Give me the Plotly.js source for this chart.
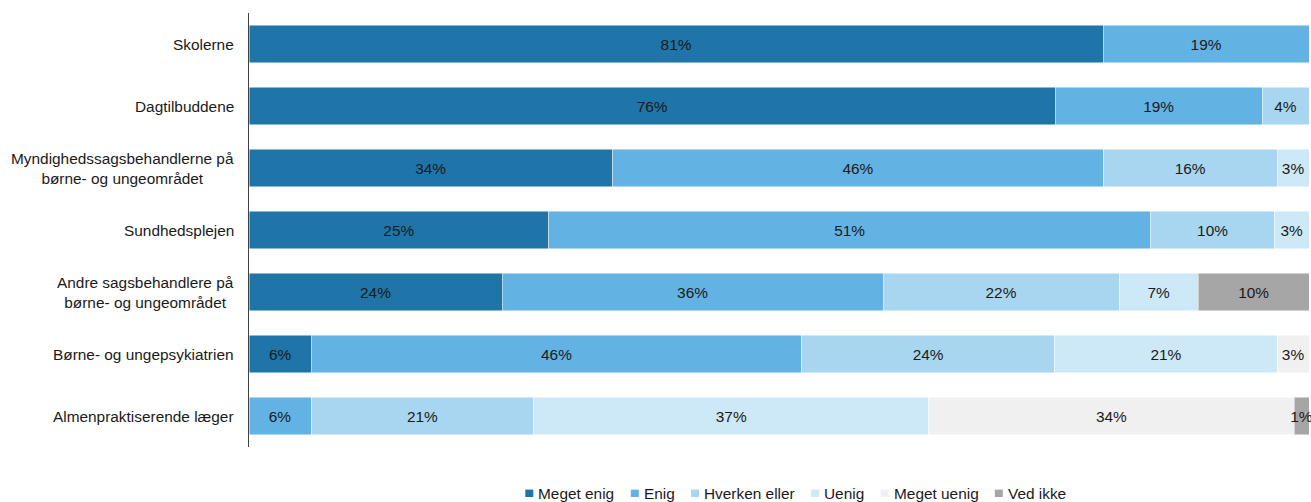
<!DOCTYPE html>
<html>
<head>
<meta charset="utf-8">
<script src="https://cdn.plot.ly/plotly-3.0.1.min.js"></script>
<style>html,body{margin:0;padding:0;background:#fff;}#chart{width:1311px;height:502px;}</style>
</head>
<body>
<div id="chart"></div>
<script>
// ---- data ----
const categories = [
  "Skolerne",
  "Dagtilbuddene",
  "Myndighedssagsbehandlerne på børne- og ungeområdet",
  "Sundhedsplejen",
  "Andre sagsbehandlere på børne- og ungeområdet",
  "Børne- og ungepsykiatrien",
  "Almenpraktiserende læger"
];
const categoryLabels = [
  "Skolerne",
  "Dagtilbuddene",
  "Myndighedssagsbehandlerne på<br>børne- og ungeområdet",
  "Sundhedsplejen",
  "Andre sagsbehandlere på<br>børne- og ungeområdet",
  "Børne- og ungepsykiatrien",
  "Almenpraktiserende læger"
];
const seriesNames = ["Meget enig", "Enig", "Hverken eller", "Uenig", "Meget uenig", "Ved ikke"];
const megetEnig  = [80.6, 75.7, 34.3, 25.2, 23.6, 5.9, 0];
const enig       = [19.4, 19.4, 46.3, 50.6, 35.5, 46.3, 5.8];
const hverken    = [0, 4.4, 16.4, 10.4, 22.0, 23.9, 20.8];
const uenig      = [0, 0, 3.0, 2.9, 7.4, 21.0, 36.9];
const megetUenig = [0, 0, 0, 0, 0, 3.0, 34.1];
const vedIkke    = [0, 0, 0, 0, 10.3, 0, 1.4];
const seriesValues = [megetEnig, enig, hverken, uenig, megetUenig, vedIkke];
const colors = ["#1f75a8", "#62b3e3", "#a8d6f0", "#cde8f6", "#f0f0f0", "#a6a6a6"];

// ---- layout constants ----
const W = 1311, H = 502;
const M = {l: 249, r: 2, t: 13, b: 55};
const PW = W - M.l - M.r, PH = H - M.t - M.b;
const FONT = "Liberation Sans, Arial, sans-serif";
const FS = 15.4;
const px2x = px => (px - M.l) / PW;
const py2y = py => (H - M.b - py) / PH;

const traces = seriesNames.map((name, i) => ({
  type: "bar",
  orientation: "h",
  name: name,
  y: categories,
  x: seriesValues[i],
  text: seriesValues[i].map(v => v > 0 ? Math.round(v) + "%" : ""),
  texttemplate: "%{text}",
  textposition: "inside",
  insidetextanchor: "middle",
  constraintext: "none",
  cliponaxis: false,
  textangle: 0,
  textfont: {family: FONT, size: FS, color: "#1a1a1a"},
  marker: {color: colors[i], line: {color: "rgba(255,255,255,0.8)", width: 0.6}},
  hoverinfo: "skip",
  showlegend: false
}));

// category labels as annotations (centered multi-line, right-aligned block)
const annotations = categories.map((c, i) => ({
  xref: "paper", yref: "y", x: 0, y: c,
  xanchor: "right", yanchor: "middle", xshift: -13,
  text: categoryLabels[i], align: "center", showarrow: false,
  font: {family: FONT, size: FS, color: "#1a1a1a"}
}));

// custom legend
const shapes = [];
const ctx = document.createElement("canvas").getContext("2d");
ctx.font = FS + "px 'Liberation Sans'";
let cx = 525.3;
const ly = 493.3;
seriesNames.forEach((n, i) => {
  shapes.push({
    type: "rect", xref: "paper", yref: "paper",
    x0: px2x(cx), x1: px2x(cx + 8), y0: py2y(ly + 3.7), y1: py2y(ly - 3.7),
    fillcolor: colors[i], line: {width: 0}
  });
  annotations.push({
    xref: "paper", yref: "paper", x: px2x(cx + 11), y: py2y(ly),
    xanchor: "left", yanchor: "middle", text: n, showarrow: false,
    font: {family: FONT, size: FS, color: "#1a1a1a"}
  });
  cx += 12 + ctx.measureText(n).width + 17.4;
});

const layout = {
  width: W, height: H,
  margin: M,
  paper_bgcolor: "#fff", plot_bgcolor: "#fff",
  barmode: "stack", barnorm: "percent", bargap: 0.396,
  font: {family: FONT, size: FS, color: "#1a1a1a"},
  uniformtext: {mode: "show", minsize: FS},
  xaxis: {range: [0, 100], showgrid: false, zeroline: false, showticklabels: false, ticks: "", showline: false, fixedrange: true},
  yaxis: {type: "category", categoryorder: "array", categoryarray: categories, range: [6.5, -0.5],
          showgrid: false, zeroline: false, showticklabels: false, ticks: "",
          showline: true, linecolor: "#404040", linewidth: 1, fixedrange: true},
  showlegend: false,
  annotations: annotations,
  shapes: shapes
};

Plotly.newPlot("chart", traces, layout, {staticPlot: true, displayModeBar: false});
</script>
</body>
</html>
